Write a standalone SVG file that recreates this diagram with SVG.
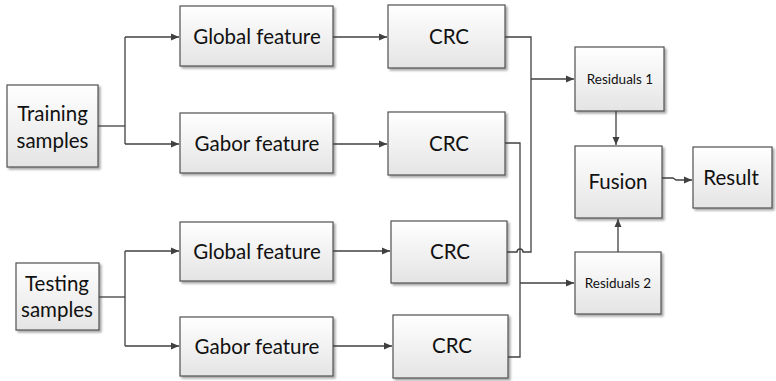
<svg xmlns="http://www.w3.org/2000/svg" width="776" height="381" viewBox="0 0 776 381">
<defs>
<linearGradient id="g" x1="0" y1="0" x2="0" y2="1">
<stop offset="0" stop-color="#ffffff"/>
<stop offset="1" stop-color="#e4e4e4"/>
</linearGradient>
<filter id="sh" x="-10%" y="-10%" width="130%" height="130%">
<feDropShadow dx="2" dy="2" stdDeviation="1.2" flood-color="#000" flood-opacity="0.35"/>
</filter>
<marker id="ar" markerUnits="userSpaceOnUse" markerWidth="10" markerHeight="10" refX="9" refY="5" orient="auto">
<path d="M1,1.5 L9,5 L1,8.5 Z" fill="#404040"/>
</marker>
</defs>
<style>
.box{fill:url(#g);stroke:#505050;stroke-width:1.2;filter:url(#sh)}
.t{font-family:Lato,"Liberation Sans",sans-serif;font-size:20.5px;fill:#111;text-anchor:middle}
.s{font-family:Lato,"Liberation Sans",sans-serif;font-size:13.5px;fill:#111;text-anchor:middle}
.c{fill:none;stroke:#404040;stroke-width:1.3}
</style>
<g id="train"><rect class="box" x="7" y="85" width="91" height="82"/><text class="t" x="52.5" y="121">Training</text><text class="t" x="52.5" y="148">samples</text></g>
<g id="test"><rect class="box" x="16" y="263" width="83" height="67"/><text class="t" x="57" y="291">Testing</text><text class="t" x="57" y="317">samples</text></g>
<g id="glob1"><rect class="box" x="180" y="6" width="153" height="60"/><text class="t" x="257" y="44">Global feature</text></g>
<g id="gab1"><rect class="box" x="180" y="113" width="153" height="60"/><text class="t" x="257" y="151">Gabor feature</text></g>
<g id="glob2"><rect class="box" x="180" y="222" width="153" height="59"/><text class="t" x="257" y="259">Global feature</text></g>
<g id="gab2"><rect class="box" x="180" y="317" width="153" height="59"/><text class="t" x="257" y="354">Gabor feature</text></g>
<g id="crc1"><rect class="box" x="388" y="5" width="117" height="63"/><text class="t" x="449" y="44">CRC</text></g>
<g id="crc2"><rect class="box" x="388" y="112" width="117" height="63"/><text class="t" x="449" y="151">CRC</text></g>
<g id="crc3"><rect class="box" x="391" y="221" width="116" height="62"/><text class="t" x="450" y="259">CRC</text></g>
<g id="crc4"><rect class="box" x="393" y="315" width="115" height="63"/><text class="t" x="452" y="353">CRC</text></g>
<g id="res1"><rect class="box" x="575" y="47" width="89" height="64"/><text class="s" x="620" y="84">Residuals 1</text></g>
<g id="res2"><rect class="box" x="575" y="252" width="86" height="62"/><text class="s" x="618" y="288">Residuals 2</text></g>
<g id="fusion"><rect class="box" x="575" y="146" width="87" height="72"/><text class="t" x="618" y="189">Fusion</text></g>
<g id="result"><rect class="box" x="693" y="147" width="79" height="61"/><text class="t" x="731" y="185">Result</text></g>
<g id="connectors">
<path class="c" d="M98,126 H125"/>
<path class="c" d="M125,37 V144"/>
<path class="c" d="M125,37 H179" marker-end="url(#ar)"/>
<path class="c" d="M125,144 H179" marker-end="url(#ar)"/>
<path class="c" d="M99,297 H125"/>
<path class="c" d="M125,251 V346"/>
<path class="c" d="M125,251 H179" marker-end="url(#ar)"/>
<path class="c" d="M125,346 H179" marker-end="url(#ar)"/>
<path class="c" d="M333,37 H387" marker-end="url(#ar)"/>
<path class="c" d="M333,144 H387" marker-end="url(#ar)"/>
<path class="c" d="M333,251 H390" marker-end="url(#ar)"/>
<path class="c" d="M333,346 H392" marker-end="url(#ar)"/>
<path class="c" d="M505,37 H531 V252 H523 A3,3 0 0 0 517,252 H507"/>
<path class="c" d="M531,79 H574" marker-end="url(#ar)"/>
<path class="c" d="M505,143 H520 V357 H508"/>
<path class="c" d="M520,283 H574" marker-end="url(#ar)"/>
<path class="c" d="M616,111 V145" marker-end="url(#ar)"/>
<path class="c" d="M618,252 V219" marker-end="url(#ar)"/>
<path class="c" d="M662,178 H673 L676,180 H692" marker-end="url(#ar)"/>
</g>
</svg>
